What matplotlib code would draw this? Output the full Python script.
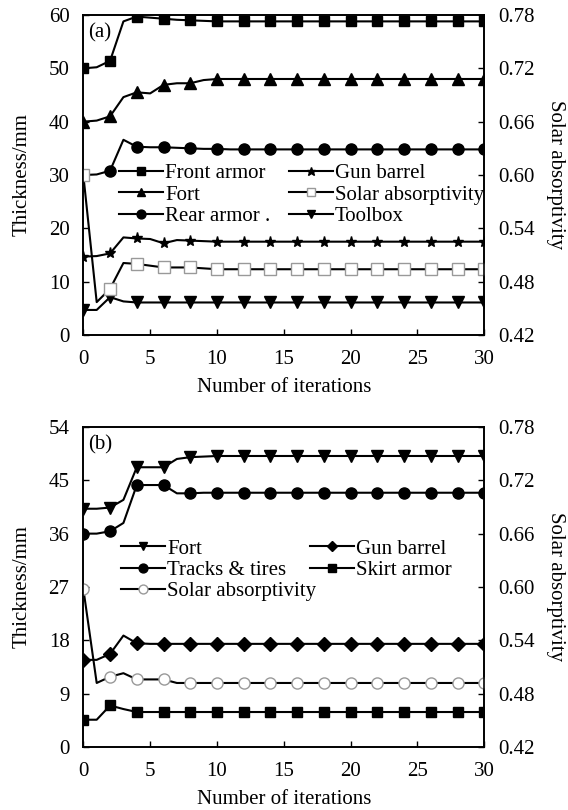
import matplotlib
matplotlib.use("Agg")
import matplotlib.pyplot as plt

plt.rcParams['font.family'] = ['Liberation Serif', 'DejaVu Serif']
plt.rcParams['font.size'] = 15

iters = list(range(31))

# panel (a) thickness, mm
front_armor = [50.0, 50.2, 51.4, 58.8, 59.7, 59.5, 59.3, 59.1, 59.0, 58.9, 58.8,
               58.8, 58.8, 58.8, 58.8, 58.8, 58.8, 58.8, 58.8, 58.8, 58.8,
               58.8, 58.8, 58.8, 58.8, 58.8, 58.8, 58.8, 58.8, 58.8, 58.8]
fort_a = [40.0, 40.2, 41.0, 44.6, 45.5, 45.3, 46.9, 47.2, 47.2, 47.8, 48.0,
          48.0, 48.0, 48.0, 48.0, 48.0, 48.0, 48.0, 48.0, 48.0, 48.0,
          48.0, 48.0, 48.0, 48.0, 48.0, 48.0, 48.0, 48.0, 48.0, 48.0]
rear_armor = [30.0, 30.1, 30.8, 36.6, 35.3, 35.2, 35.2, 35.1, 35.0, 34.9, 34.9,
              34.8, 34.8, 34.8, 34.8, 34.8, 34.8, 34.8, 34.8, 34.8, 34.8,
              34.8, 34.8, 34.8, 34.8, 34.8, 34.8, 34.8, 34.8, 34.8, 34.8]
gun_a = [14.7, 14.8, 15.3, 18.3, 18.1, 18.0, 17.2, 17.8, 17.7, 17.6, 17.5,
         17.5, 17.5, 17.5, 17.5, 17.5, 17.5, 17.5, 17.5, 17.5, 17.5,
         17.5, 17.5, 17.5, 17.5, 17.5, 17.5, 17.5, 17.5, 17.5, 17.5]
toolbox = [4.7, 4.7, 7.1, 6.3, 6.1, 6.1, 6.1, 6.1, 6.1, 6.1, 6.1,
           6.1, 6.1, 6.1, 6.1, 6.1, 6.1, 6.1, 6.1, 6.1, 6.1,
           6.1, 6.1, 6.1, 6.1, 6.1, 6.1, 6.1, 6.1, 6.1, 6.1]
# panel (a) solar absorptivity
solar_a = [0.600, 0.457, 0.472, 0.501, 0.500, 0.498, 0.496, 0.496, 0.496, 0.495, 0.494,
           0.494, 0.494, 0.494, 0.494, 0.494, 0.494, 0.494, 0.494, 0.494, 0.494,
           0.494, 0.494, 0.494, 0.494, 0.494, 0.494, 0.494, 0.494, 0.494, 0.494]

# panel (b) thickness, mm
fort_b = [40.2, 40.2, 40.4, 41.7, 47.2, 47.2, 47.2, 48.6, 48.9, 49.0, 49.1,
          49.1, 49.1, 49.1, 49.1, 49.1, 49.1, 49.1, 49.1, 49.1, 49.1,
          49.1, 49.1, 49.1, 49.1, 49.1, 49.1, 49.1, 49.1, 49.1, 49.1]
tracks = [36.0, 36.0, 36.4, 37.8, 44.2, 44.2, 44.2, 42.8, 42.8, 42.9, 42.9,
          42.9, 42.9, 42.9, 42.9, 42.9, 42.9, 42.9, 42.9, 42.9, 42.9,
          42.9, 42.9, 42.9, 42.9, 42.9, 42.9, 42.9, 42.9, 42.9, 42.9]
gun_b = [14.7, 14.7, 15.7, 18.8, 17.5, 17.4, 17.4, 17.4, 17.4, 17.4, 17.4,
         17.4, 17.4, 17.4, 17.4, 17.4, 17.4, 17.4, 17.4, 17.4, 17.4,
         17.4, 17.4, 17.4, 17.4, 17.4, 17.4, 17.4, 17.4, 17.4, 17.4]
skirt = [4.6, 4.6, 7.0, 6.4, 5.9, 5.9, 5.9, 5.9, 5.9, 5.9, 5.9,
         5.9, 5.9, 5.9, 5.9, 5.9, 5.9, 5.9, 5.9, 5.9, 5.9,
         5.9, 5.9, 5.9, 5.9, 5.9, 5.9, 5.9, 5.9, 5.9, 5.9]
solar_b = [0.598, 0.492, 0.499, 0.503, 0.496, 0.496, 0.496, 0.492, 0.492, 0.492, 0.492,
           0.492, 0.492, 0.492, 0.492, 0.492, 0.492, 0.492, 0.492, 0.492, 0.492,
           0.492, 0.492, 0.492, 0.492, 0.492, 0.492, 0.492, 0.492, 0.492, 0.492]

yticks_a = [0, 10, 20, 30, 40, 50, 60]
yticks_b = [0, 9, 18, 27, 36, 45, 54]
rticks = [0.42, 0.48, 0.54, 0.60, 0.66, 0.72, 0.78]
xticks = [0, 5, 10, 15, 20, 25, 30]

fig = plt.figure(figsize=(5.68, 8.10), dpi=100)
ax1 = fig.add_axes([0.1467, 0.5864, 0.7060, 0.3951])
ax2 = fig.add_axes([0.1467, 0.0778, 0.7060, 0.3951])

lw = 1.5
k = 'black'
leg_kw = dict(loc='upper left', frameon=False, borderpad=0, borderaxespad=0,
              handlelength=2.1, handletextpad=0.1, labelspacing=0.08,
              markerscale=0.8)


def style(ax, ax_r, yticks):
    ax.set_xlim(0, 30)
    ax.set_ylim(yticks[0], yticks[-1])
    ax.set_xticks(xticks)
    ax.set_yticks(yticks)
    ax.tick_params(axis='x', direction='in', length=4, width=1, pad=11)
    ax.tick_params(axis='y', direction='in', length=4, width=1, pad=10)
    ax_r.set_ylim(0.42, 0.78)
    ax_r.set_yticks(rticks)
    ax_r.set_yticklabels(['%.2f' % t for t in rticks])
    ax_r.tick_params(direction='in', length=4, width=1, pad=10)
    for a in (ax, ax_r):
        for s in a.spines.values():
            s.set_linewidth(1.2)
    ax.set_xlabel('Number of iterations', labelpad=6)
    ax.set_ylabel('Thickness/mm', labelpad=12)
    ax_r.set_ylabel('Solar absorptivity', rotation=270, va='bottom', labelpad=8)


# panel (a)
ax1r = ax1.twinx()
h1, = ax1.plot(iters, front_armor, color=k, lw=lw, marker='s', ms=7, markevery=2)
h2, = ax1.plot(iters, fort_a, color=k, lw=lw, marker='^', ms=8, markevery=2)
h3, = ax1.plot(iters, rear_armor, color=k, lw=lw, marker='o', ms=8, markevery=2)
h4, = ax1.plot(iters, gun_a, color=k, lw=lw, marker='*', ms=8, markevery=2)
h6, = ax1.plot(iters, toolbox, color=k, lw=lw, marker='v', ms=8, markevery=2)
h5, = ax1r.plot(iters, solar_a, color=k, lw=lw, marker='s', ms=8, markevery=2,
                mfc='white', mec='#999999', mew=1)
style(ax1, ax1r, yticks_a)
ax1.text(0.012, 0.975, '(a)', transform=ax1.transAxes, va='top', ha='left')
ax1.legend([h1, h2, h3, h4, h5, h6],
           ['Front armor', 'Fort', 'Rear armor .', 'Gun barrel', 'Solar absorptivity', 'Toolbox'],
           ncol=2, bbox_to_anchor=(0.09, 0.535), columnspacing=0.9, **leg_kw)

# panel (b)
ax2r = ax2.twinx()
g1, = ax2.plot(iters, fort_b, color=k, lw=lw, marker='v', ms=8, markevery=2)
g2, = ax2.plot(iters, tracks, color=k, lw=lw, marker='o', ms=8, markevery=2)
g4, = ax2.plot(iters, gun_b, color=k, lw=lw, marker='D', ms=7, markevery=2)
g5, = ax2.plot(iters, skirt, color=k, lw=lw, marker='s', ms=7, markevery=2)
g3, = ax2r.plot(iters, solar_b, color=k, lw=lw, marker='o', ms=8, markevery=2,
                mfc='white', mec='#999999', mew=1)
style(ax2, ax2r, yticks_b)
ax2.text(0.012, 0.975, '(b)', transform=ax2.transAxes, va='top', ha='left')
leg_b1 = ax2.legend([g1, g2, g3], ['Fort', 'Tracks & tires', 'Solar absorptivity'],
                    bbox_to_anchor=(0.095, 0.65), **leg_kw)
ax2.add_artist(leg_b1)
ax2.legend([g4, g5], ['Gun barrel', 'Skirt armor'],
           bbox_to_anchor=(0.565, 0.65), **leg_kw)

fig.savefig('out.png', dpi=100)
